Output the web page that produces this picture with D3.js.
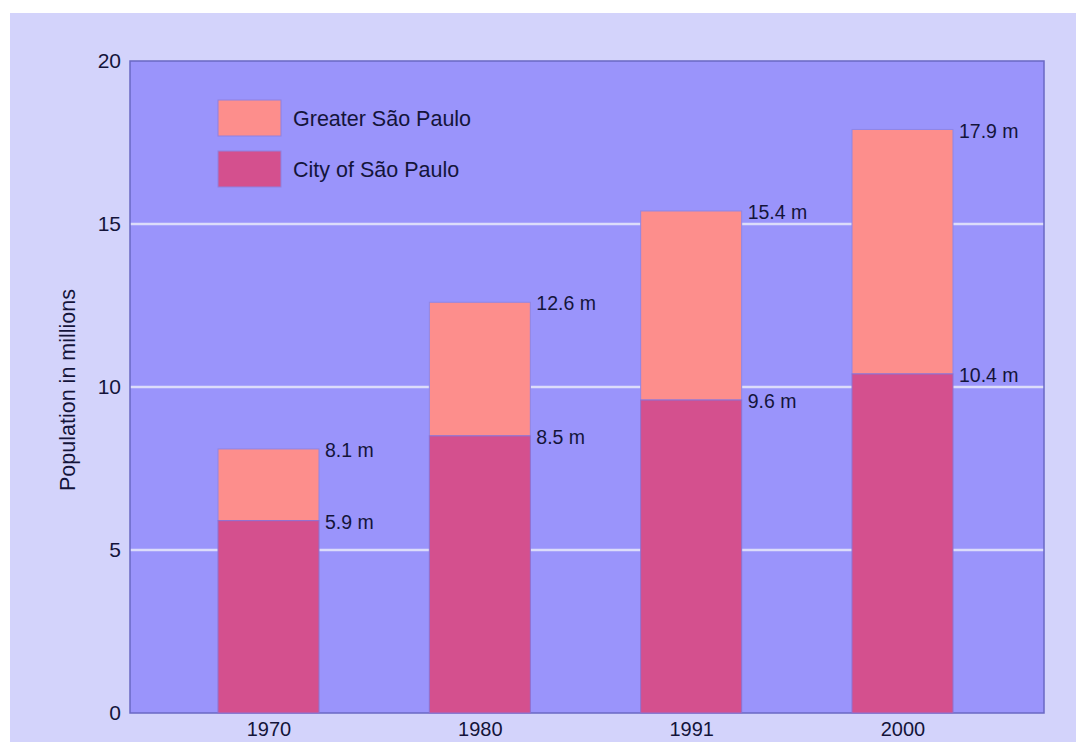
<!DOCTYPE html>
<html>
<head>
<meta charset="utf-8">
<script src="https://cdn.jsdelivr.net/npm/d3@7"></script>
<style>
  html, body { margin: 0; padding: 0; background: #ffffff; }
  svg { display: block; font-family: "Liberation Sans", Arial, sans-serif; }
</style>
</head>
<body>
<div id="chart"></div>
<script>
const years = ["1970", "1980", "1991", "2000"]
const cityValues = [5.9, 8.5, 9.6, 10.4]
const greaterValues = [8.1, 12.6, 15.4, 17.9]
const yTicks = [0, 5, 10, 15, 20]
const legendLabels = ["Greater São Paulo", "City of São Paulo"]

const W = 1076, H = 742
const plot = { left: 130, right: 1044, top: 61, bottom: 713 }
const barWidth = 101
const colors = { greater: "#fd8e8c", city: "#d4508e" }
const ink = "#14143a"

const svg = d3.select("#chart").append("svg")
  .attr("width", W)
  .attr("height", H)

// outer panel
svg.append("rect")
  .attr("x", 10).attr("y", 13)
  .attr("width", W - 10).attr("height", H - 13)
  .attr("fill", "#d3d3fb")

const x = d3.scalePoint()
  .domain(years)
  .range([268.5, 902.5])

const y = d3.scaleLinear()
  .domain([0, 20])
  .range([plot.bottom, plot.top])

// plot area
svg.append("rect")
  .attr("x", plot.left).attr("y", plot.top)
  .attr("width", plot.right - plot.left).attr("height", plot.bottom - plot.top)
  .attr("fill", "#9a94fb")

// gridlines
svg.append("g")
  .selectAll("line")
  .data(yTicks.filter(d => d > 0 && d < 20))
  .join("line")
  .attr("x1", plot.left).attr("x2", plot.right)
  .attr("y1", d => y(d)).attr("y2", d => y(d))
  .attr("stroke", "#dcdcfa")
  .attr("stroke-width", 2.5)

// plot border
svg.append("rect")
  .attr("x", plot.left).attr("y", plot.top)
  .attr("width", plot.right - plot.left).attr("height", plot.bottom - plot.top)
  .attr("fill", "none")
  .attr("stroke", "#6a68c4")
  .attr("stroke-width", 1.5)

const rows = years.map((yr, i) => ({ year: yr, city: cityValues[i], greater: greaterValues[i] }))

// bars
const bars = svg.append("g")
bars.selectAll("rect.greater")
  .data(rows)
  .join("rect")
  .attr("class", "greater")
  .attr("x", d => x(d.year) - barWidth / 2)
  .attr("width", barWidth)
  .attr("y", d => y(d.greater))
  .attr("height", d => y(d.city) - y(d.greater))
  .attr("fill", colors.greater)
  .attr("stroke", "#8f86e6")
  .attr("stroke-width", 1)

bars.selectAll("rect.city")
  .data(rows)
  .join("rect")
  .attr("class", "city")
  .attr("x", d => x(d.year) - barWidth / 2)
  .attr("width", barWidth)
  .attr("y", d => y(d.city))
  .attr("height", d => y(0) - y(d.city))
  .attr("fill", colors.city)
  .attr("stroke", "#8f70d0")
  .attr("stroke-width", 1)

// value labels
const labels = svg.append("g")
  .attr("font-size", 19.5)
  .attr("fill", ink)
labels.selectAll("text.g")
  .data(rows)
  .join("text")
  .attr("x", d => x(d.year) + barWidth / 2 + 6)
  .attr("y", d => y(d.greater))
  .attr("dy", "0.42em")
  .text(d => `${d.greater} m`)
labels.selectAll("text.c")
  .data(rows)
  .join("text")
  .attr("x", d => x(d.year) + barWidth / 2 + 6)
  .attr("y", d => y(d.city))
  .attr("dy", "0.42em")
  .text(d => `${d.city} m`)

// y axis labels
svg.append("g")
  .attr("transform", `translate(${plot.left - 9},0)`)
  .call(d3.axisLeft(y).tickValues(yTicks).tickSize(0).tickPadding(0))
  .call(g => g.select(".domain").remove())
  .selectAll("text")
  .attr("font-size", 21)
  .attr("fill", ink)
  .attr("font-family", "Liberation Sans, Arial, sans-serif")

// x axis labels
svg.append("g")
  .attr("transform", `translate(0,${plot.bottom})`)
  .call(d3.axisBottom(x).tickSize(0).tickPadding(9))
  .call(g => g.select(".domain").remove())
  .selectAll("text")
  .attr("font-size", 20)
  .attr("fill", ink)
  .attr("font-family", "Liberation Sans, Arial, sans-serif")

// y title
svg.append("text")
  .attr("transform", `translate(75,${(plot.top + plot.bottom) / 2 + 3}) rotate(-90)`)
  .attr("text-anchor", "middle")
  .attr("font-size", 21.5)
  .attr("fill", ink)
  .text("Population in millions")

// legend
const legend = svg.append("g")
const legendColors = [colors.greater, colors.city]
legend.selectAll("rect")
  .data(legendLabels)
  .join("rect")
  .attr("x", 218)
  .attr("y", (d, i) => 100 + i * 51)
  .attr("width", 63)
  .attr("height", 36)
  .attr("fill", (d, i) => legendColors[i])
  .attr("stroke", "#8f80e0")
  .attr("stroke-width", 1)
legend.selectAll("text")
  .data(legendLabels)
  .join("text")
  .attr("x", 293)
  .attr("y", (d, i) => 118 + i * 51)
  .attr("dy", "0.35em")
  .attr("font-size", 21.5)
  .attr("fill", ink)
  .text(d => d)
</script>
</body>
</html>
